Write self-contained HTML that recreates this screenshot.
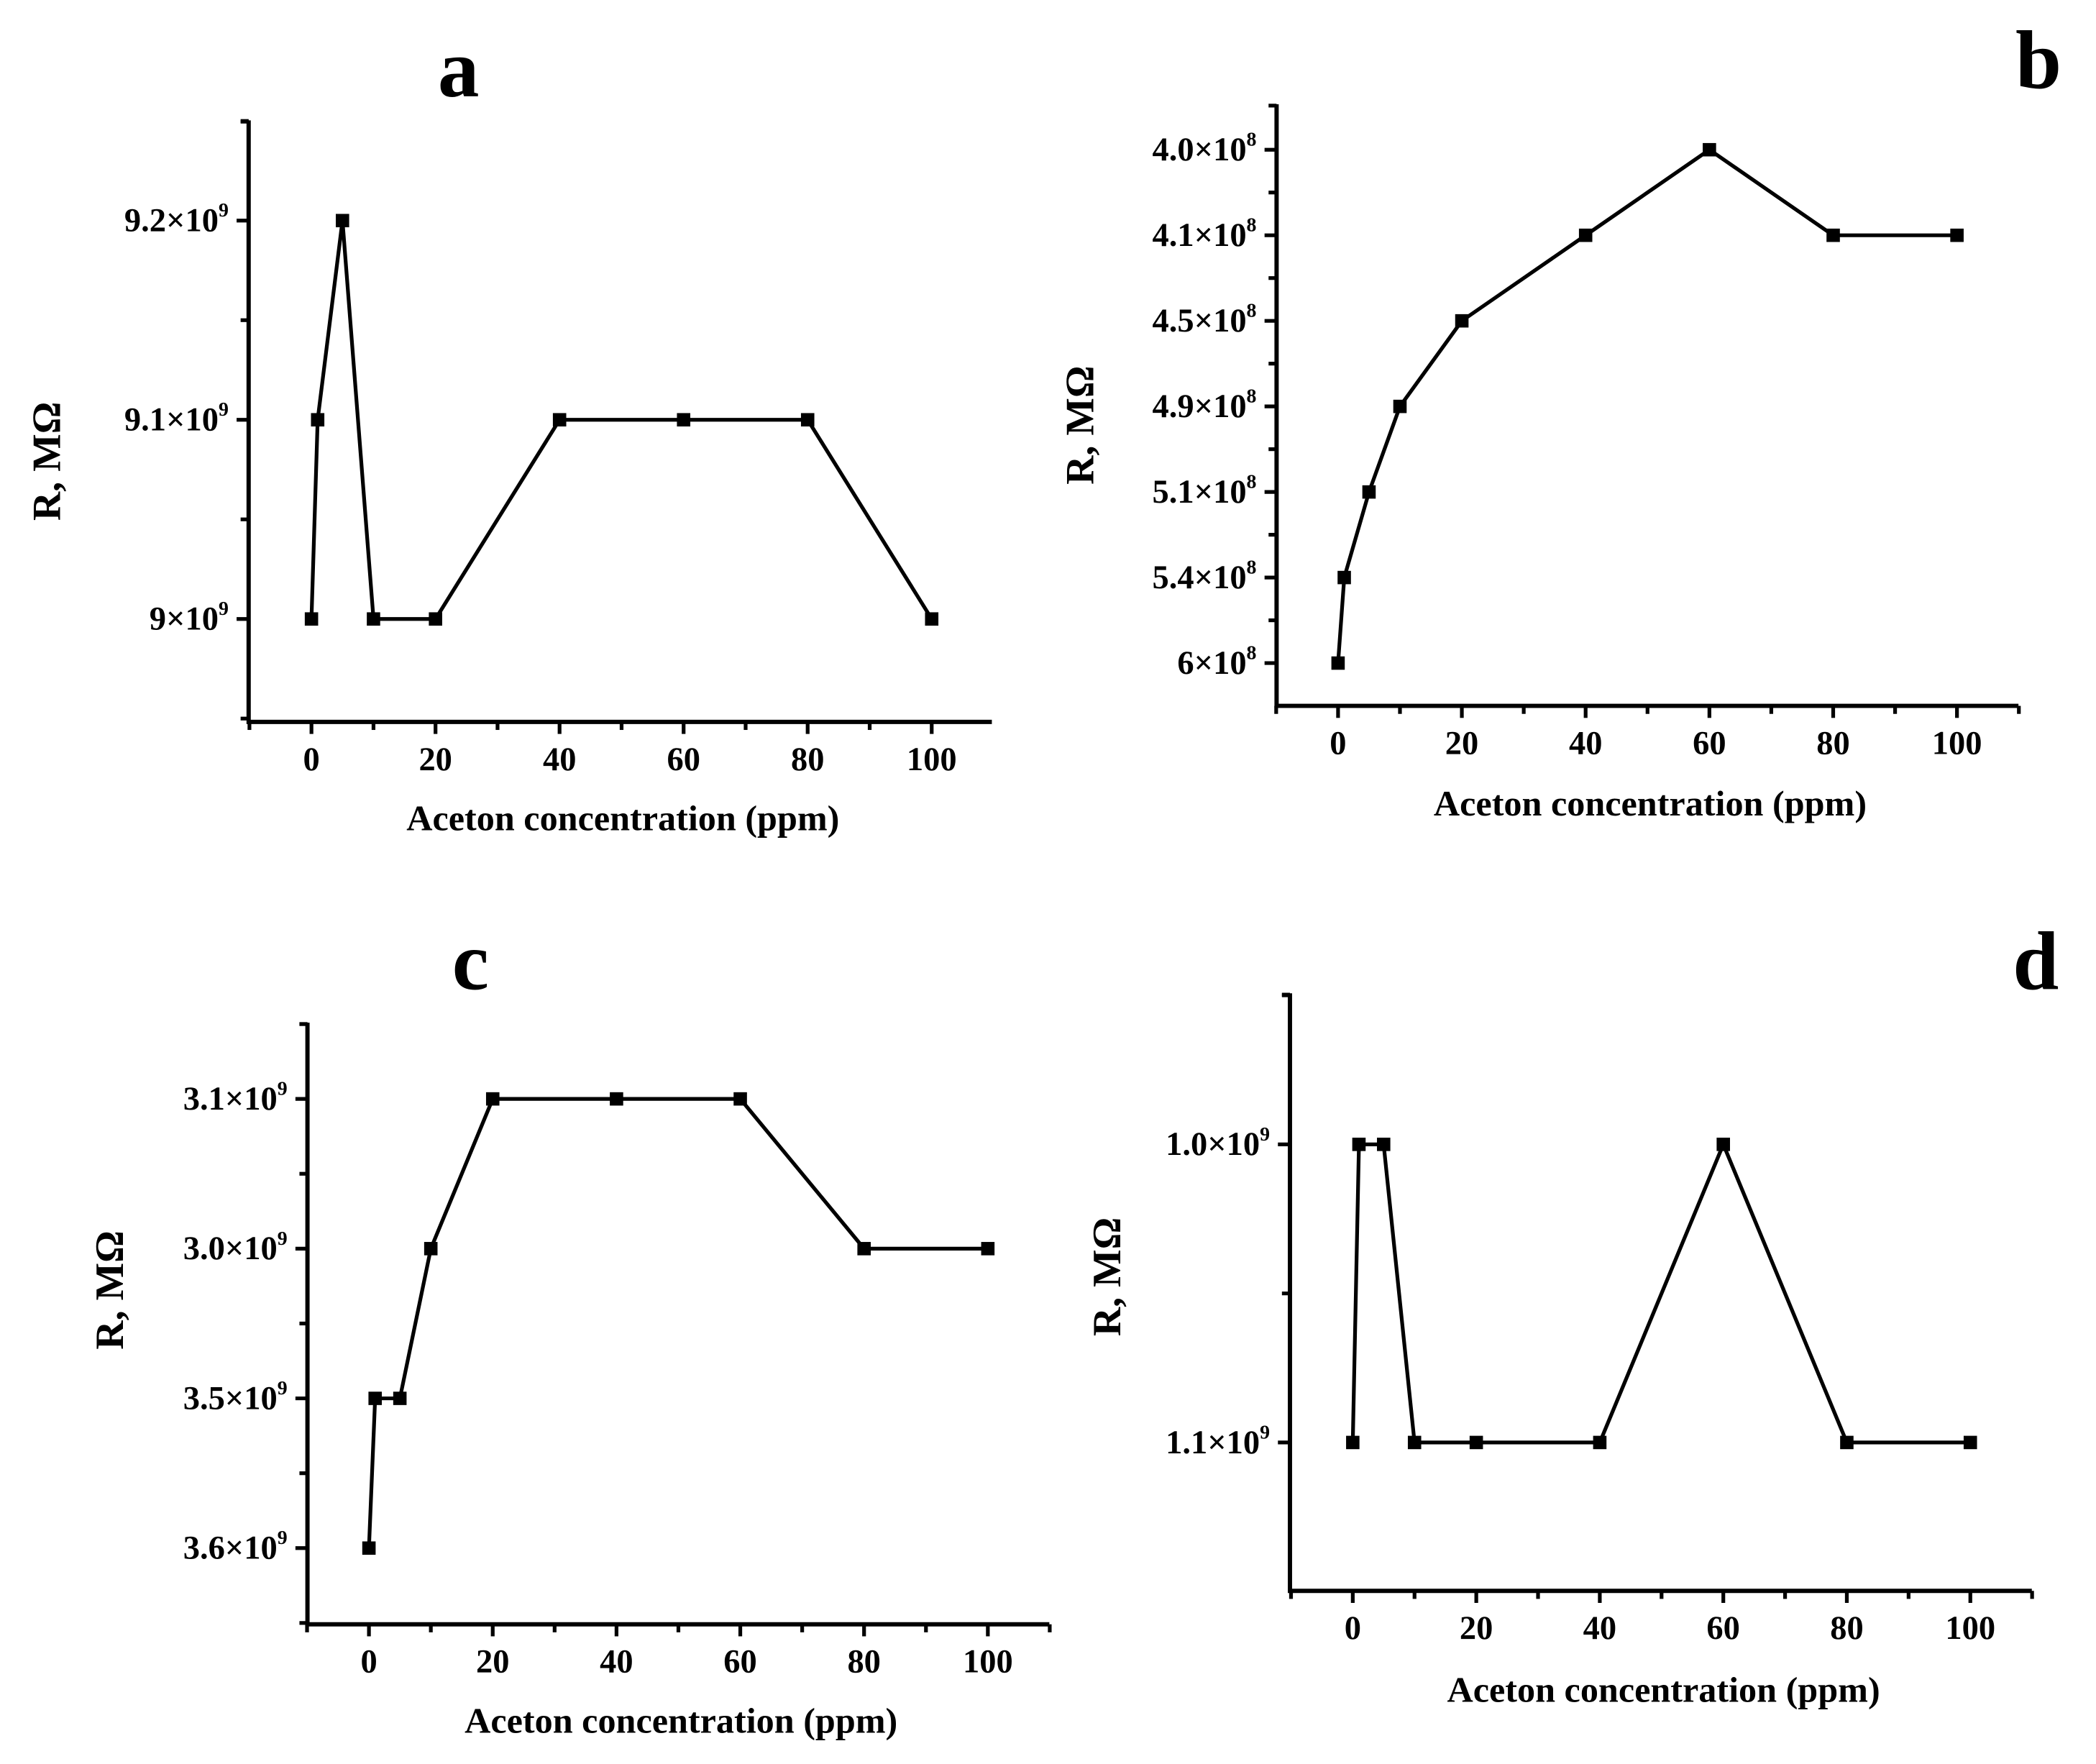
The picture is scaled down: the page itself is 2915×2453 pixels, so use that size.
<!DOCTYPE html>
<html><head><meta charset="utf-8"><style>html,body{margin:0;padding:0;background:#fff}svg{display:block}</style></head>
<body>
<svg id="fig" xmlns="http://www.w3.org/2000/svg" width="2915" height="2453" viewBox="0 0 1568 1319.5" font-family="'Liberation Serif', serif" font-weight="bold"></svg>
<script>
const xCats = [0, 1, 5, 10, 20, 40, 60, 80, 100];
const xTickLabels = [0, 20, 40, 60, 80, 100];
const aValues = [9.0, 9.1, 9.2, 9.0, 9.0, 9.1, 9.1, 9.1, 9.0];
const aTicks = [9.2, 9.1, 9.0];
const aTickLabels = ["9.2", "9.1", "9"];
const bValues = [6, 5.4, 5.1, 4.9, 4.5, 4.1, 4.0, 4.1, 4.1];
const bTicks = [4.0, 4.1, 4.5, 4.9, 5.1, 5.4, 6];
const bTickLabels = ["4.0", "4.1", "4.5", "4.9", "5.1", "5.4", "6"];
const cValues = [3.6, 3.5, 3.5, 3.0, 3.1, 3.1, 3.1, 3.0, 3.0];
const cTicks = [3.1, 3.0, 3.5, 3.6];
const cTickLabels = ["3.1", "3.0", "3.5", "3.6"];
const dValues = [1.1, 1.0, 1.0, 1.1, 1.1, 1.1, 1.0, 1.1, 1.1];
const dTicks = [1.0, 1.1];
const dTickLabels = ["1.0", "1.1"];

const NS = "http://www.w3.org/2000/svg";
const svg = document.getElementById('fig');
function mk(tag, attrs, parent) {
  const e = document.createElementNS(NS, tag);
  for (const k in attrs) e.setAttribute(k, attrs[k]);
  (parent || svg).appendChild(e);
  return e;
}
const panels = [
  {id:'a', vals:aValues, ticks:aTicks, labels:aTickLabels, exp:'9', L:186, T:90, B:540, R:742, x0:233, x100:697, yFirst:165, yLast:463, letter:[343,72], ylab:[35,345], xlab:612},
  {id:'b', vals:bValues, ticks:bTicks, labels:bTickLabels, exp:'8', L:955, T:78, B:528, R:1510, x0:1001, x100:1464, yFirst:112, yLast:496, letter:[1525,66], ylab:[808,318], xlab:601},
  {id:'c', vals:cValues, ticks:cTicks, labels:cTickLabels, exp:'9', L:230, T:765, B:1215, R:785, x0:276, x100:739, yFirst:822, yLast:1158, letter:[352,740], ylab:[82,965], xlab:1287},
  {id:'d', vals:dValues, ticks:dTicks, labels:dTickLabels, exp:'9', L:965, T:743, B:1190, R:1520, x0:1012, x100:1474, yFirst:856, yLast:1079, letter:[1523,740], ylab:[828,955], xlab:1264}
];
panels.forEach(p => {
  const g = mk('g', {});
  
  
  const xs = v => p.x0 + (v / 100) * (p.x100 - p.x0);
  const n = p.ticks.length;
  const step = n > 1 ? (p.yLast - p.yFirst) / (n - 1) : 0;
  const ys = v => {
    for (let i = 0; i < n - 1; i++) {
      const a = p.ticks[i], b = p.ticks[i + 1];
      if ((v - a) * (v - b) <= 0 && a !== b) return p.yFirst + step * (i + (v - a) / (b - a));
    }
    let best = 0; p.ticks.forEach((t, i) => { if (Math.abs(t - v) < Math.abs(p.ticks[best] - v)) best = i; });
    return p.yFirst + step * best;
  };
  const ax = mk('path', {d:`M${p.L},${p.T} L${p.L},${p.B} L${p.R},${p.B}`, fill:'none', stroke:'#000', 'stroke-width':3.2}, g);
  
  
  for (let v = -10; v <= 110; v += 10) {
    const x = xs(v);
    if (x < p.L - 1 || x > p.R + 1) continue;
    const major = v % 20 === 0 && v >= 0 && v <= 100;
    mk('line', {x1:x, y1:p.B, x2:x, y2:p.B + (major ? 9 : 6), stroke:'#000', 'stroke-width':2.8}, g);
  }
  xTickLabels.forEach(v => {
    const t = mk('text', {x:xs(v), y:p.B + 36, 'text-anchor':'middle', 'font-size':25}, g);
    t.textContent = v;
    
    
  });
  const tickYs = [];
  for (let i = 0; i < n; i++) tickYs.push(p.yFirst + step * i);
  const minors = [];
  if (n > 1) for (let i = 0; i < n - 1; i++) minors.push(p.yFirst + step * (i + 0.5));
  if (p.id !== 'b') { minors.push(p.yFirst - step * 0.5); minors.push(p.yLast + step * 0.5); }
  minors.forEach(y => { if (y >= p.T - 1 && y <= p.B) mk('line', {x1:p.L - 6, y1:y, x2:p.L, y2:y, stroke:'#000', 'stroke-width':2.8}, g); });
  mk('line', {x1:p.L - 6, y1:p.T + 1, x2:p.L, y2:p.T + 1, stroke:'#000', 'stroke-width':2.8}, g);
  tickYs.forEach((y, i) => {
    mk('line', {x1:p.L - 9, y1:y, x2:p.L, y2:y, stroke:'#000', 'stroke-width':2.8}, g);
    const t = mk('text', {x:p.L - 15, y:y + 8, 'text-anchor':'end', 'font-size':25}, g);
    
    
    const s1 = mk('tspan', {}, t); s1.textContent = p.labels[i] + '\u00d710';
    const s2 = mk('tspan', {'font-size':15, dy:-11}, t); s2.textContent = p.exp;
  });
  const pts = xCats.map((c, i) => [xs(c), ys(p.vals[i])]);
  const ln = mk('polyline', {points:pts.map(q => q.join(',')).join(' '), fill:'none', stroke:'#000', 'stroke-width':2.8}, g);
  
  
  pts.forEach(q => {
    const r = mk('rect', {x:q[0] - 5, y:q[1] - 5, width:10, height:10, fill:'#000'}, g);
    
    
  });
  const lt = mk('text', {x:p.letter[0], y:p.letter[1], 'text-anchor':'middle', 'font-size':62}, g);
  lt.textContent = p.id;
  
  
  const yl = mk('text', {x:p.ylab[0], y:p.ylab[1], 'text-anchor':'middle', 'font-size':30, transform:`rotate(-90 ${p.ylab[0]} ${p.ylab[1]})`, dy:10}, g);
  yl.textContent = 'R, M\u03a9';
  
  
  const xl = mk('text', {x:(p.L + p.R) / 2 + 2, y:p.xlab + 9, 'text-anchor':'middle', 'font-size':27}, g);
  xl.textContent = 'Aceton concentration (ppm)';
  
  
});
</script>
</body></html>
